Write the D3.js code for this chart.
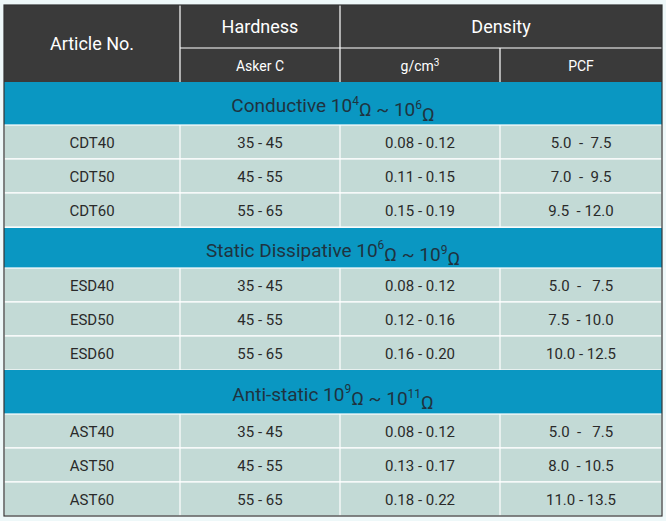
<!DOCTYPE html><html><head><meta charset="utf-8">
<script src="https://cdn.jsdelivr.net/npm/d3@7"></script>
<style>body{margin:0;background:#eef8f9}svg{display:block}text{font-family:Roboto,"Open Sans",sans-serif}</style></head><body><svg width="666" height="521"></svg>
<script>
const groupNames=["Conductive","Static Dissipative","Anti-static"];
const groupLo=["4","6","9"];
const groupHi=["6","9","11"];
const articles=[["CDT40","CDT50","CDT60"],["ESD40","ESD50","ESD60"],["AST40","AST50","AST60"]];
const hardness=[["35 - 45","45 - 55","55 - 65"],["35 - 45","45 - 55","55 - 65"],["35 - 45","45 - 55","55 - 65"]];
const gcm=[["0.08 - 0.12","0.11 - 0.15","0.15 - 0.19"],["0.08 - 0.12","0.12 - 0.16","0.16 - 0.20"],["0.08 - 0.12","0.13 - 0.17","0.18 - 0.22"]];
const pcf=[["5.0  -  7.5","7.0  -  9.5","9.5  - 12.0"],["5.0  -   7.5","7.5  - 10.0","10.0 - 12.5"],["5.0  -   7.5","8.0  - 10.5","11.0 - 13.5"]];

const svg=d3.select("svg");
const x=d3.scaleOrdinal().domain([0,1,2,3,4]).range([4,180,340,500,662]);
const bandTops=[82,228,370], bandH=[43,40,44], rowH=34;
const grey="#3a3a3a", blue="#0a97c2", row="#c3dad6";
// header
svg.append("rect").attr("x",4).attr("y",5).attr("width",658).attr("height",77).attr("fill",grey);
const hdr=[[180,340,"Hardness",27],[340,662,"Density",27]];
hdr.forEach(h=>svg.append("text").attr("x",(h[0]+h[1])/2).attr("y",h[3]).attr("dy","0.35em").attr("text-anchor","middle").attr("fill","#fff").attr("font-size",18).text(h[2]));
svg.append("text").attr("x",92).attr("y",44).attr("dy","0.35em").attr("text-anchor","middle").attr("fill","#fff").attr("font-size",18).text("Article No.");
svg.append("text").attr("x",260).attr("y",66).attr("dy","0.35em").attr("text-anchor","middle").attr("fill","#fff").attr("font-size",14).text("Asker C");
const g3=svg.append("text").attr("x",420).attr("y",66).attr("dy","0.35em").attr("text-anchor","middle").attr("fill","#fff").attr("font-size",14);
g3.append("tspan").text("g/cm");g3.append("tspan").attr("dy","-0.45em").attr("font-size",10).text("3");
svg.append("text").attr("x",581).attr("y",66).attr("dy","0.35em").attr("text-anchor","middle").attr("fill","#fff").attr("font-size",14).text("PCF");
const hl=svg.append("g").attr("stroke","#fff").attr("stroke-width",1.2);
hl.append("line").attr("x1",180).attr("x2",662).attr("y1",48).attr("y2",48);
[180,340].forEach(v=>hl.append("line").attr("x1",v).attr("x2",v).attr("y1",5).attr("y2",82));
hl.append("line").attr("x1",500).attr("x2",500).attr("y1",48).attr("y2",82);
// groups
groupNames.forEach((gname,gi)=>{
  const top=bandTops[gi], bh=bandH[gi];
  svg.append("rect").attr("x",4).attr("y",top).attr("width",658).attr("height",bh).attr("fill",blue);
  const t=svg.append("text").attr("x",333).attr("y",top+bh/2+2).attr("dy","0.35em").attr("text-anchor","middle").attr("fill","#1f3340").attr("font-size",19);
  t.append("tspan").text(gname+(gi==0?"     ":"  ")+"10");
  t.append("tspan").attr("dy","-0.6em").attr("font-size",12).text(groupLo[gi]);
  t.append("tspan").attr("dy","0.6em").text("Ω ~ 10");
  t.append("tspan").attr("dy","-0.6em").attr("font-size",12).text(groupHi[gi]);
  t.append("tspan").attr("dy","0.6em").text("Ω");
  const y0=top+bh;
  articles[gi].forEach((a,ri)=>{
    const ry=y0+ri*rowH;
    svg.append("rect").attr("x",4).attr("y",ry).attr("width",658).attr("height",rowH).attr("fill",row).attr("stroke","#fff").attr("stroke-width",1.2);
    [a,hardness[gi][ri],gcm[gi][ri],pcf[gi][ri]].forEach((v,ci)=>{
      svg.append("text").attr("x",(x(ci)+x(ci+1))/2).attr("y",ry+rowH/2+1).attr("dy","0.35em").attr("text-anchor","middle").attr("fill","#2a2a2a").attr("font-size",15).attr("xml:space","preserve").style("white-space","pre").text(v);
    });
    [180,340,500].forEach(v=>svg.append("line").attr("x1",v).attr("x2",v).attr("y1",ry).attr("y2",ry+rowH).attr("stroke","#fff").attr("stroke-width",1.2));
  });
});
svg.append("rect").attr("x",4).attr("y",5).attr("width",658).attr("height",511).attr("fill","none").attr("stroke","#333").attr("stroke-width",1.2);
</script></body></html>
